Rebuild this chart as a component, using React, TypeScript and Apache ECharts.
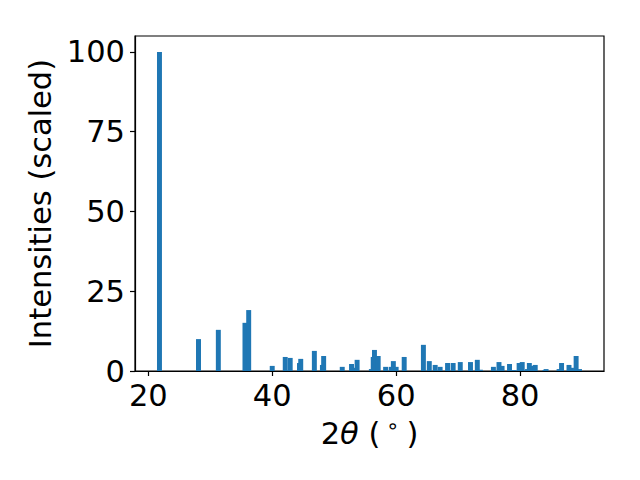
import React, { useEffect, useRef } from "react";
import * as echarts from "echarts";

const twoTheta: number[] = [
  21.8, 28.1, 31.3, 35.6, 36.2, 40.0, 42.1, 42.9, 44.4, 44.6, 46.8, 48.1, 48.3,
  51.3, 52.8, 53.3, 53.7, 56.0, 56.3, 56.5, 57.1, 58.3, 59.2, 59.55, 60.0, 61.3,
  64.4, 65.35, 66.3, 67.1, 68.3, 69.2, 70.35, 72.0, 73.1, 73.6, 75.7, 76.6, 77.1,
  78.3, 79.0, 79.85, 80.35, 81.2, 81.5, 82.1, 82.45, 84.0, 84.2, 86.3, 86.7, 87.9,
  88.3, 89.05, 89.6,
];
const intensities: number[] = [
  100, 10.0, 12.9, 15.1, 19.1, 1.6, 4.4, 4.1, 2.5, 3.8, 6.3, 1.9, 4.7,
  1.3, 2.2, 1.0, 3.5, 0.6, 4.4, 6.6, 4.7, 1.3, 1.3, 3.1, 1.3, 4.4,
  8.2, 3.1, 1.9, 1.3, 2.5, 2.5, 2.8, 2.8, 3.5, 0.4, 1.3, 2.8, 1.6,
  2.2, 0.3, 2.5, 2.8, 0.6, 2.5, 1.6, 1.9, 0.3, 0.6, 0.6, 2.5, 1.9,
  1.0, 4.7, 0.6,
];
const xTicks: number[] = [20, 40, 60, 80];
const yTicks: number[] = [0, 25, 50, 75, 100];
const barWidth = 0.8;

export default function App() {
  const ref = useRef<HTMLDivElement>(null);
  useEffect(() => {
    if (!ref.current) return;
    const chart = echarts.init(ref.current, null, { renderer: "svg" });
    const font = "DejaVu Sans";
    const fs = 30.5;
    const data = twoTheta.map((x, i) => [x, intensities[i]]);
    chart.setOption({
      animation: false,
      textStyle: { fontFamily: font },
      grid: {
        left: 135,
        right: 36,
        top: 36,
        bottom: 109,
        show: true,
        borderColor: "#000",
        borderWidth: 1.2,
        containLabel: false,
        outerBoundsMode: "none",
      },
      xAxis: {
        type: "value",
        min: 17.85,
        max: 93.55,
        splitLine: { show: false },
        axisLine: { show: true, onZero: false, lineStyle: { color: "#000", width: 1.2 } },
        axisTick: { show: true, length: 5, lineStyle: { color: "#000", width: 1.2 }, customValues: xTicks },
        axisLabel: { color: "#000", fontSize: fs, fontFamily: font, margin: 9, customValues: xTicks },
        name: "{a|2}{b|θ}{a| (}{c|∘}{a|)}",
        nameLocation: "middle",
        nameGap: 44,
        nameTextStyle: {
          rich: {
            a: { fontSize: fs, fontFamily: font, color: "#000" },
            b: { fontSize: fs, fontFamily: font, fontStyle: "italic", color: "#000" },
            c: { fontSize: 21, fontFamily: font, color: "#000", verticalAlign: "top", padding: [0, 7, 14, 6] },
          },
        },
      },
      yAxis: {
        type: "value",
        min: 0,
        max: 105,
        splitLine: { show: false },
        axisLine: { show: true, lineStyle: { color: "#000", width: 1.2 } },
        axisTick: { show: true, length: 5, lineStyle: { color: "#000", width: 1.2 }, customValues: yTicks },
        axisLabel: { color: "#000", fontSize: fs, fontFamily: font, margin: 10, customValues: yTicks },
        name: "Intensities (scaled)",
        nameLocation: "middle",
        nameGap: 71,
        nameTextStyle: { fontSize: fs, fontFamily: font, color: "#000" },
      },
      series: [
        {
          type: "custom",
          clip: true,
          data,
          renderItem: (params: any, api: any) => {
            const x = api.value(0);
            const y = api.value(1);
            const p0 = api.coord([x - barWidth / 2, 0]);
            const p1 = api.coord([x + barWidth / 2, y]);
            return {
              type: "rect",
              shape: { x: p0[0], y: p1[1], width: p1[0] - p0[0], height: p0[1] - p1[1] },
              style: { fill: "#1f77b4" },
            };
          },
        },
      ],
    });
    return () => chart.dispose();
  }, []);
  return (
    <div
      ref={ref}
      style={{ position: "fixed", left: 0, top: 0, width: 640, height: 480, background: "#fff" }}
    />
  );
}
